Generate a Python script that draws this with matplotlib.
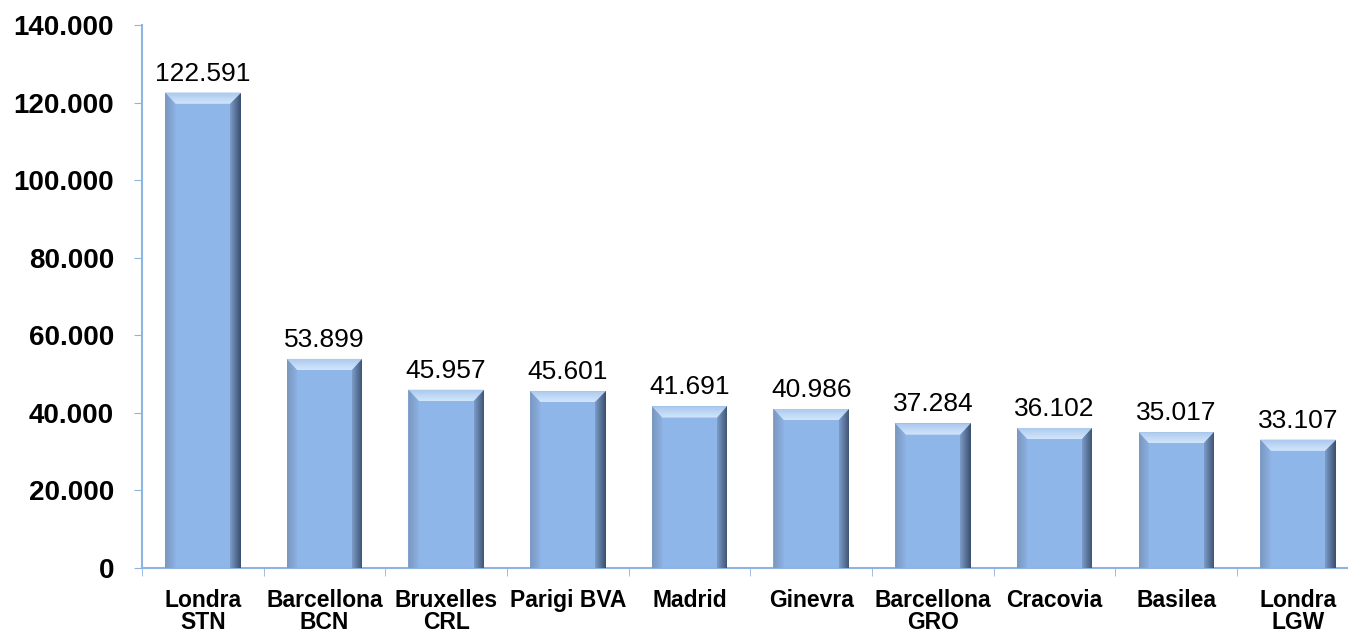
import matplotlib
matplotlib.use("Agg")
import matplotlib.pyplot as plt
import numpy as np
from matplotlib.patches import Polygon
from matplotlib.ticker import FuncFormatter, FixedLocator

categories = ["Londra\nSTN", "Barcellona\nBCN", "Bruxelles\nCRL", "Parigi BVA", "Madrid",
              "Ginevra", "Barcellona\nGRO", "Cracovia", "Basilea", "Londra\nLGW"]
values = [122591, 53899, 45957, 45601, 41691, 40986, 37284, 36102, 35017, 33107]
y_ticks = [0, 20000, 40000, 60000, 80000, 100000, 120000, 140000]

plt.rcParams['font.family'] = ['Liberation Sans', 'DejaVu Sans']

axis_col = '#8EB4E3'
face_col = '#8FB6E8'


def dotted(v, pos=None):
    return f"{v:,.0f}".replace(",", ".")


fig = plt.figure(figsize=(13.48, 6.33), dpi=100)
ax = fig.add_axes([0.1053, 0.1027, 0.9027, 0.8578])

x = np.arange(len(values))
width = 0.62
bars = ax.bar(x, values, width=width, color=face_col, edgecolor='none', zorder=2)

# bevel look: top light band, dark gradient on right, slightly darker left side
bx, by = 0.085, 2900
grad = np.linspace(0, 1, 50).reshape(1, -1)
cm_right = matplotlib.colors.LinearSegmentedColormap.from_list('r', ['#7C9CC8', '#3A4F6E'])
cm_left = matplotlib.colors.LinearSegmentedColormap.from_list('l', ['#7A96BE', '#8CB2E4'])
cm_top = matplotlib.colors.LinearSegmentedColormap.from_list('t', ['#D2E6FB', '#A9C8EE'])
for b in bars:
    x0 = b.get_x()
    x1 = x0 + b.get_width()
    h = b.get_height()
    top = Polygon([(x0, h), (x1, h), (x1 - bx, h - by), (x0 + bx, h - by)],
                  closed=True, facecolor='none', edgecolor='none', zorder=3)
    ax.add_patch(top)
    im0 = ax.imshow(grad.T, extent=(x0, x1, h - by, h), aspect='auto', origin='lower',
                    cmap=cm_top, zorder=3)
    im0.set_clip_path(top)
    right = Polygon([(x1, h), (x1, 0), (x1 - bx, 0), (x1 - bx, h - by)],
                    closed=True, facecolor='none', edgecolor='none', zorder=3)
    ax.add_patch(right)
    im = ax.imshow(grad, extent=(x1 - bx, x1, 0, h), aspect='auto', origin='lower',
                   cmap=cm_right, zorder=3)
    im.set_clip_path(right)
    left = Polygon([(x0, h), (x0 + bx, h - by), (x0 + bx, 0), (x0, 0)],
                   closed=True, facecolor='none', edgecolor='none', zorder=3)
    ax.add_patch(left)
    im2 = ax.imshow(grad, extent=(x0, x0 + bx, 0, h), aspect='auto', origin='lower',
                    cmap=cm_left, zorder=3)
    im2.set_clip_path(left)
    ax.annotate(dotted(h), (b.get_x() + b.get_width() / 2, h), xytext=(0, 5),
                textcoords='offset points', ha='center', va='bottom', fontsize=19)

ax.set_xlim(-0.5, len(values) - 0.5)
ax.set_ylim(0, 140000)

ax.yaxis.set_major_locator(FixedLocator(y_ticks))
ax.yaxis.set_major_formatter(FuncFormatter(dotted))
ax.set_xticks(x)
ax.set_xticklabels(categories, fontsize=16.5, fontweight='bold', linespacing=0.95)
ax.xaxis.set_minor_locator(FixedLocator(np.arange(-0.5, len(values), 1.0)))
ax.tick_params(axis='x', which='major', length=0, pad=15)
ax.tick_params(axis='x', which='minor', length=6, color=axis_col, direction='out')
ax.tick_params(axis='y', length=6, color=axis_col, direction='out', pad=14)
for lab in ax.get_yticklabels():
    lab.set_fontsize(20)
    lab.set_fontweight('bold')

for s in ['top', 'right']:
    ax.spines[s].set_visible(False)
ax.spines['left'].set_color(axis_col)
ax.spines['bottom'].set_color(axis_col)
ax.spines['left'].set_linewidth(1.5)
ax.spines['bottom'].set_linewidth(1.5)

fig.savefig('out.png', dpi=100)
